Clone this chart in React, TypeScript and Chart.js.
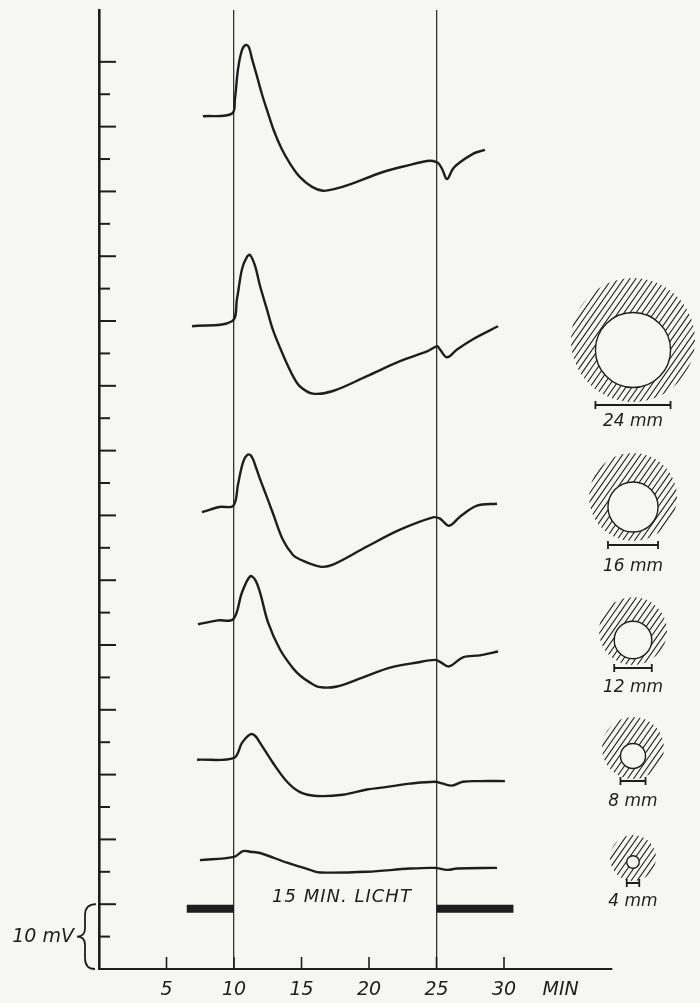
import React, { useEffect, useRef } from "react";
import { Chart, registerables } from "chart.js";

Chart.register(...registerables);

// ---------- data ----------
const xTickValues = [5, 10, 15, 20, 25, 30];
const xUnitLabel = "MIN";
const xUnitAt = 34.2;
const lightOn = 10;
const lightOff = 25;
const yTickStep = 5;
const yTopTick = 140;
const scaleBarMv = 10;
const scaleBarLabel = "10 mV";
const lightLabel = "15 MIN. LICHT";
const darkBarLeft = [6.5, 10];
const darkBarRight = [25, 30.7];
const darkBarLevel = 9.3;
const apertureMm = [24, 16, 12, 8, 4];

const trace1T = [7.7, 9.85, 10.07, 10.3, 10.59, 10.89, 11.11, 11.33, 11.7, 12.07, 12.5, 12.95, 13.5, 14.15, 14.89, 15.78, 16.59, 17.48, 18.59, 21.04, 23.04, 24.3, 24.74, 25.11, 25.41, 25.78, 26.22, 26.74, 27.7, 28.22, 28.59];
const trace1V = [131.6, 132.0, 134.3, 138.9, 141.8, 142.6, 142.2, 140.5, 137.8, 135.0, 132.2, 129.4, 126.7, 124.3, 122.2, 120.7, 120.1, 120.4, 121.1, 123.0, 124.1, 124.7, 124.7, 124.4, 123.5, 121.9, 123.5, 124.5, 125.8, 126.2, 126.4];

const trace2T = [6.89, 9.85, 10.22, 10.59, 10.96, 11.19, 11.56, 11.93, 12.44, 12.89, 13.63, 14.37, 14.89, 15.85, 17.33, 19.85, 22.3, 24.3, 25.04, 25.26, 25.78, 26.52, 27.7, 29.56];
const trace2V = [99.2, 99.97, 103.4, 108.0, 109.9, 110.2, 108.5, 105.4, 101.8, 98.6, 94.8, 91.5, 89.9, 88.8, 89.2, 91.5, 93.8, 95.3, 96.1, 95.6, 94.4, 95.6, 97.2, 99.2];

const trace3T = [7.63, 8.9, 9.95, 10.3, 10.67, 11.04, 11.33, 11.63, 11.93, 12.37, 12.89, 13.63, 14.37, 14.89, 16.37, 17.33, 19.85, 22.3, 24.74, 25.26, 25.93, 26.74, 28.0, 29.48];
const trace3V = [70.5, 71.3, 71.5, 74.8, 78.2, 79.4, 79.0, 77.4, 75.6, 73.2, 70.3, 66.2, 63.9, 63.2, 62.1, 62.4, 65.2, 67.8, 69.7, 69.5, 68.4, 69.8, 71.5, 71.8];

const trace4T = [7.33, 8.8, 9.95, 10.59, 11.19, 11.56, 11.93, 12.52, 13.41, 14.37, 14.89, 15.63, 16.37, 17.63, 19.56, 21.56, 23.56, 24.89, 25.26, 25.93, 26.96, 28.22, 29.56];
const trace4V = [53.2, 53.8, 54.0, 58.1, 60.6, 60.1, 58.1, 53.5, 49.3, 46.4, 45.3, 44.2, 43.5, 43.6, 45.0, 46.5, 47.3, 47.7, 47.4, 46.7, 48.1, 48.4, 49.0];

const trace5T = [7.26, 10.0, 10.59, 11.19, 11.56, 11.93, 12.89, 13.93, 14.89, 16.15, 18.07, 19.85, 21.33, 23.04, 24.89, 25.48, 26.15, 26.96, 28.22, 30.07];
const trace5V = [32.3, 32.6, 34.9, 36.2, 36.0, 34.9, 31.8, 28.9, 27.3, 26.7, 26.9, 27.7, 28.1, 28.6, 28.9, 28.6, 28.3, 28.9, 29.0, 29.0];

const trace6T = [7.48, 10.0, 10.67, 11.19, 11.93, 13.93, 15.63, 16.37, 19.85, 23.04, 24.89, 25.78, 26.52, 29.48];
const trace6V = [16.8, 17.3, 18.2, 18.1, 17.9, 16.4, 15.3, 14.9, 15.0, 15.5, 15.6, 15.3, 15.5, 15.6];

// ---------- layout / style (not data) ----------
const INK = "#1e1e1e";
const PAPER = "#f6f6f3";
const FONT = '"DejaVu Sans"';
const apCenterX = 633;
const apInnerY = [350, 507, 640, 756, 862];
const apHatchY = [340, 497, 631, 748, 858];
const apHatchR = [62, 44, 34, 31, 23];
const apBarY = [405, 545, 668, 781, 883];
const apLabelY = [422, 567, 688, 802, 902];
const pxPerMm = 3.13;

const toPts = (t: number[], v: number[]) => t.map((x, i) => ({ x, y: v[i] }));

const decorPlugin = {
  id: "decor",
  beforeDraw(chart: any) {
    const { ctx, width, height } = chart;
    ctx.save();
    ctx.fillStyle = PAPER;
    ctx.fillRect(0, 0, width, height);
    ctx.restore();
  },
  afterDraw(chart: any) {
    const { ctx, chartArea } = chart;
    const xs = chart.scales.x;
    const ys = chart.scales.y;
    ctx.save();
    ctx.strokeStyle = INK;
    ctx.fillStyle = INK;

    // inside y ticks (long at every 10 mV, short at 5 mV)
    ctx.lineWidth = 2;
    for (let v = yTickStep; v <= yTopTick; v += yTickStep) {
      const py = ys.getPixelForValue(v);
      const len = v % 10 === 0 ? 17 : 11;
      ctx.beginPath();
      ctx.moveTo(chartArea.left, py);
      ctx.lineTo(chartArea.left + len, py);
      ctx.stroke();
    }

    // inside x ticks
    ctx.lineWidth = 1.6;
    xTickValues.forEach((v) => {
      const px = xs.getPixelForValue(v);
      ctx.beginPath();
      ctx.moveTo(px, chartArea.bottom);
      ctx.lineTo(px, chartArea.bottom - 12);
      ctx.stroke();
    });

    // light label
    ctx.font = `italic 18px ${FONT}`;
    (ctx as any).letterSpacing = "1px";
    ctx.textAlign = "center";
    ctx.textBaseline = "middle";
    ctx.fillText(lightLabel, xs.getPixelForValue(18.0), ys.getPixelForValue(11.0));
    (ctx as any).letterSpacing = "0px";

    // 10 mV brace
    const yTop = ys.getPixelForValue(scaleBarMv);
    const yBot = ys.getPixelForValue(0);
    const yMid = (yTop + yBot) / 2;
    const L = chartArea.left;
    ctx.lineWidth = 1.8;
    ctx.beginPath();
    ctx.moveTo(L - 3, yTop);
    ctx.quadraticCurveTo(L - 14, yTop, L - 14, yTop + 11);
    ctx.lineTo(L - 14, yMid - 8);
    ctx.quadraticCurveTo(L - 14, yMid, L - 22, yMid);
    ctx.quadraticCurveTo(L - 14, yMid, L - 14, yMid + 8);
    ctx.lineTo(L - 14, yBot - 11);
    ctx.quadraticCurveTo(L - 14, yBot, L - 4, yBot);
    ctx.stroke();
    ctx.font = `italic 19px ${FONT}`;
    ctx.textAlign = "right";
    ctx.fillText(scaleBarLabel, L - 25, yMid);

    // apertures
    apertureMm.forEach((d, i) => {
      const r = (d * pxPerMm) / 2;
      const cx = apCenterX;
      const cy = apInnerY[i];
      const hy = apHatchY[i];
      const R = apHatchR[i];
      ctx.save();
      ctx.beginPath();
      ctx.arc(cx, hy, R, 0, Math.PI * 2);
      ctx.arc(cx, cy, r, 0, Math.PI * 2, true);
      ctx.clip("evenodd");
      ctx.lineWidth = 1.1;
      ctx.beginPath();
      for (let s = -2 * R; s <= 2 * R; s += 6) {
        ctx.moveTo(cx + s - R * 0.7, hy + R);
        ctx.lineTo(cx + s + R * 0.7, hy - R);
      }
      ctx.stroke();
      ctx.restore();
      ctx.lineWidth = 1.4;
      ctx.beginPath();
      ctx.arc(cx, cy, r, 0, Math.PI * 2);
      ctx.stroke();
      // scale bar
      const by = apBarY[i];
      ctx.lineWidth = 1.8;
      ctx.beginPath();
      ctx.moveTo(cx - r, by);
      ctx.lineTo(cx + r, by);
      ctx.moveTo(cx - r, by - 4);
      ctx.lineTo(cx - r, by + 4);
      ctx.moveTo(cx + r, by - 4);
      ctx.lineTo(cx + r, by + 4);
      ctx.stroke();
      ctx.font = `italic 17px ${FONT}`;
      ctx.textAlign = "center";
      ctx.textBaseline = "middle";
      ctx.fillText(`${d} mm`, cx, apLabelY[i]);
    });
    ctx.restore();
  },
};

export default function App() {
  const ref = useRef<HTMLCanvasElement | null>(null);
  useEffect(() => {
    if (!ref.current) return;
    const traceStyle = {
      borderColor: INK,
      borderWidth: 2.4,
      pointRadius: 0,
      fill: false,
      tension: 0.35,
    };
    const barStyle = {
      borderColor: INK,
      borderWidth: 8,
      pointRadius: 0,
      fill: false,
      tension: 0,
      borderCapStyle: "butt" as const,
    };
    const chart = new Chart(ref.current, {
      type: "line",
      data: {
        datasets: [
          { ...traceStyle, data: toPts(trace1T, trace1V) },
          { ...traceStyle, data: toPts(trace2T, trace2V) },
          { ...traceStyle, data: toPts(trace3T, trace3V) },
          { ...traceStyle, data: toPts(trace4T, trace4V) },
          { ...traceStyle, data: toPts(trace5T, trace5V) },
          { ...traceStyle, data: toPts(trace6T, trace6V) },
          { ...barStyle, data: darkBarLeft.map((x) => ({ x, y: darkBarLevel })) },
          { ...barStyle, data: darkBarRight.map((x) => ({ x, y: darkBarLevel })) },
        ],
      },
      options: {
        animation: false,
        responsive: false,
        devicePixelRatio: 1,
        layout: { padding: { left: 99, right: 88, top: 10, bottom: 0 } },
        plugins: { legend: { display: false }, tooltip: { enabled: false } },
        events: [],
        scales: {
          x: {
            type: "linear",
            min: 0,
            max: 38,
            afterBuildTicks: (s: any) => {
              s.ticks = [...xTickValues.map((v) => ({ value: v })), { value: xUnitAt }];
            },
            afterFit: (s: any) => {
              s.height = 34;
            },
            ticks: {
              autoSkip: false,
              maxRotation: 0,
              padding: 10,
              color: INK,
              font: { family: "DejaVu Sans", size: 19, style: "italic" },
              callback: (v: any) => (v === xUnitAt ? xUnitLabel : String(v)),
            },
            grid: {
              drawTicks: false,
              lineWidth: 1.3,
              color: (c: any) =>
                c.tick && (c.tick.value === lightOn || c.tick.value === lightOff) ? "#333" : "rgba(0,0,0,0)",
            },
            border: { display: true, color: INK, width: 2 },
          },
          y: {
            type: "linear",
            min: 0,
            max: 148,
            afterFit: (s: any) => {
              s.width = 0;
            },
            ticks: { display: false, stepSize: yTickStep },
            grid: { display: false },
            border: { display: true, color: INK, width: 2.6 },
          },
        },
      },
      plugins: [decorPlugin],
    });
    return () => chart.destroy();
  }, []);
  return (
    <div style={{ position: "absolute", left: 0, top: 0, width: 700, height: 1003, background: PAPER }}>
      <canvas ref={ref} width={700} height={1003} style={{ display: "block" }} />
    </div>
  );
}
